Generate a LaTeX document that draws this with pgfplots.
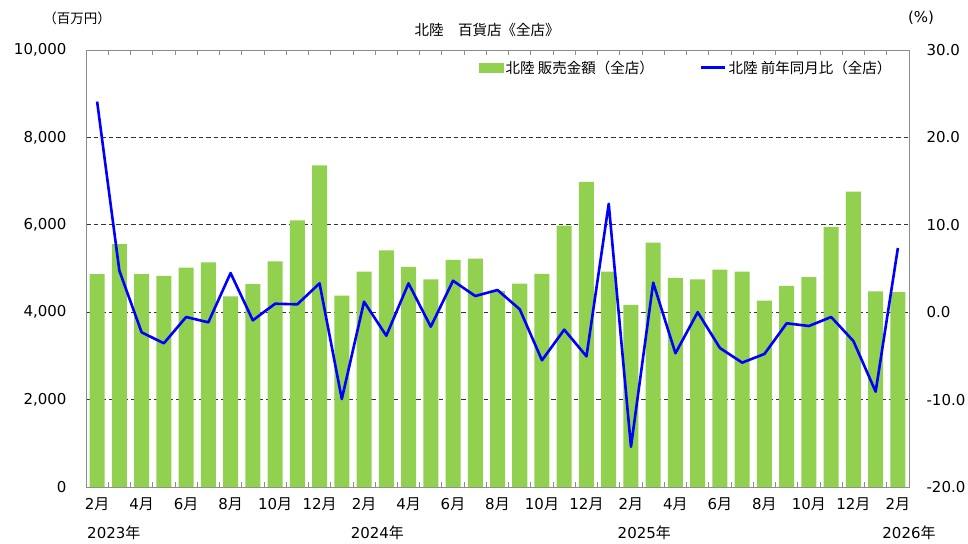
\documentclass[border=0pt]{standalone}
\usepackage{fontspec}
\usepackage{pgfplots}
\usepackage{pgfplotstable}
\pgfplotsset{compat=1.18}
\setmainfont{DejaVu Sans}
\newfontfamily\cjk{Noto Sans CJK JP}
\definecolor{barg}{HTML}{92D050}
\newcommand\M[1]{#1{\cjk 月}}
\newcommand\fs{\fontsize{15}{17}\selectfont}
\newcommand\fj{\fontsize{14.5}{17}\selectfont}
\pgfplotstableread{
x sales yoy
0 4870 24.1
1 5560 4.75
2 4870 -2.3
3 4830 -3.56
4 5020 -0.55
5 5140 -1.16
6 4360 4.48
7 4645 -0.93
8 5165 0.97
9 6100 0.9
10 7360 3.3
11 4380 -9.93
12 4930 1.2
13 5415 -2.69
14 5035 3.3
15 4750 -1.66
16 5195 3.6
17 5225 1.85
18 4490 2.54
19 4655 0.33
20 4875 -5.5
21 5980 -2.0
22 6985 -5.05
23 4930 12.4
24 4165 -15.4
25 5590 3.38
26 4785 -4.7
27 4750 0.0
28 4975 -4.1
29 4930 -5.77
30 4265 -4.78
31 4600 -1.27
32 4800 -1.58
33 5950 -0.55
34 6760 -3.3
35 4475 -9.09
36 4460 7.35
}\data
\begin{document}
\begin{tikzpicture}[font=\fs]
\useasboundingbox (0,0) rectangle (968pt,543pt);
\begin{axis}[
  at={(86pt,56pt)}, anchor=south west, scale only axis,
  width=823pt, height=437pt,
  xmin=-0.5, xmax=36.5, ymin=0, ymax=10000,
  ytick={0,2000,...,10000},
  scaled y ticks=false,
  yticklabel style={font=\fs, xshift=-16pt},
  /pgf/number format/assume math mode=true,
  /pgf/number format/1000 sep={,},
  ymajorgrids, grid style={dash pattern=on 4.5pt off 3pt, black!80, line width=0.9pt},
  major y tick style={draw=none},
  axis line style={gray!90, line width=0.8pt},
  xtick={0,2,...,36},
  xticklabels={\M{2},\M{4},\M{6},\M{8},\M{10},\M{12},\M{2},\M{4},\M{6},\M{8},\M{10},\M{12},\M{2},\M{4},\M{6},\M{8},\M{10},\M{12},\M{2}},
  xticklabel style={font=\fs, yshift=-7pt},
  major x tick style={draw=none},
  minor xtick={0.5,1.5,...,35.5},
  minor x tick style={gray!90, line width=0.8pt},
  minor tick length=5pt, tick align=inside,
  clip=false,
]
\addplot[ybar, bar width=15pt, fill=barg, draw=none] table[x=x, y=sales]{\data};
\node[anchor=center] at (axis cs:0.75,0) [yshift=-46pt] {2023{\cjk 年}};
\node[anchor=center] at (axis cs:12.6,0) [yshift=-46pt] {2024{\cjk 年}};
\node[anchor=center] at (axis cs:24.6,0) [yshift=-46pt] {2025{\cjk 年}};
\node[anchor=center] at (axis cs:36.5,0) [yshift=-46pt] {2026{\cjk 年}};
\end{axis}
\begin{axis}[
  at={(86pt,56pt)}, anchor=south west, scale only axis,
  width=823pt, height=437pt,
  xmin=-0.5, xmax=36.5, ymin=-20, ymax=30,
  axis y line*=right, axis x line=none,
  ytick={-20,-10,...,30},
  /pgf/number format/assume math mode=true,
  /pgf/number format/fixed,
  /pgf/number format/fixed zerofill,
  /pgf/number format/precision=1,
  yticklabel style={font=\fs, anchor=west, xshift=14pt},
  major y tick style={draw=none},
  axis line style={gray!90, line width=0.8pt},
  legend style={at={(rel axis cs:0.474,0.985)}, anchor=north west, draw=none, fill=none,
    font=\cjk\fj, legend columns=2,
    /tikz/every even column/.append style={column sep=44pt}},
]
\addlegendimage{legend image code/.code={\fill[barg] (0pt,-4.5pt) rectangle (24pt,4.5pt);}}
\addlegendentry{北陸 販売金額（全店）}
\addplot[blue, line width=2.6pt, mark=none, line join=round,
  legend image code/.code={\draw[blue, line width=2.6pt] (0pt,0pt) -- (24pt,0pt);}]
  table[x=x, y=yoy]{\data};
\addlegendentry{北陸 前年同月比（全店）}
\end{axis}
\node at (77pt,525pt) {\cjk\fontsize{13.5}{15}\selectfont （百万円）};
\node at (921pt,525pt) {\fs (\%)};
\node at (487pt,513pt) {\cjk\fj 北陸　百貨店《全店》};
\end{tikzpicture}
\end{document}
